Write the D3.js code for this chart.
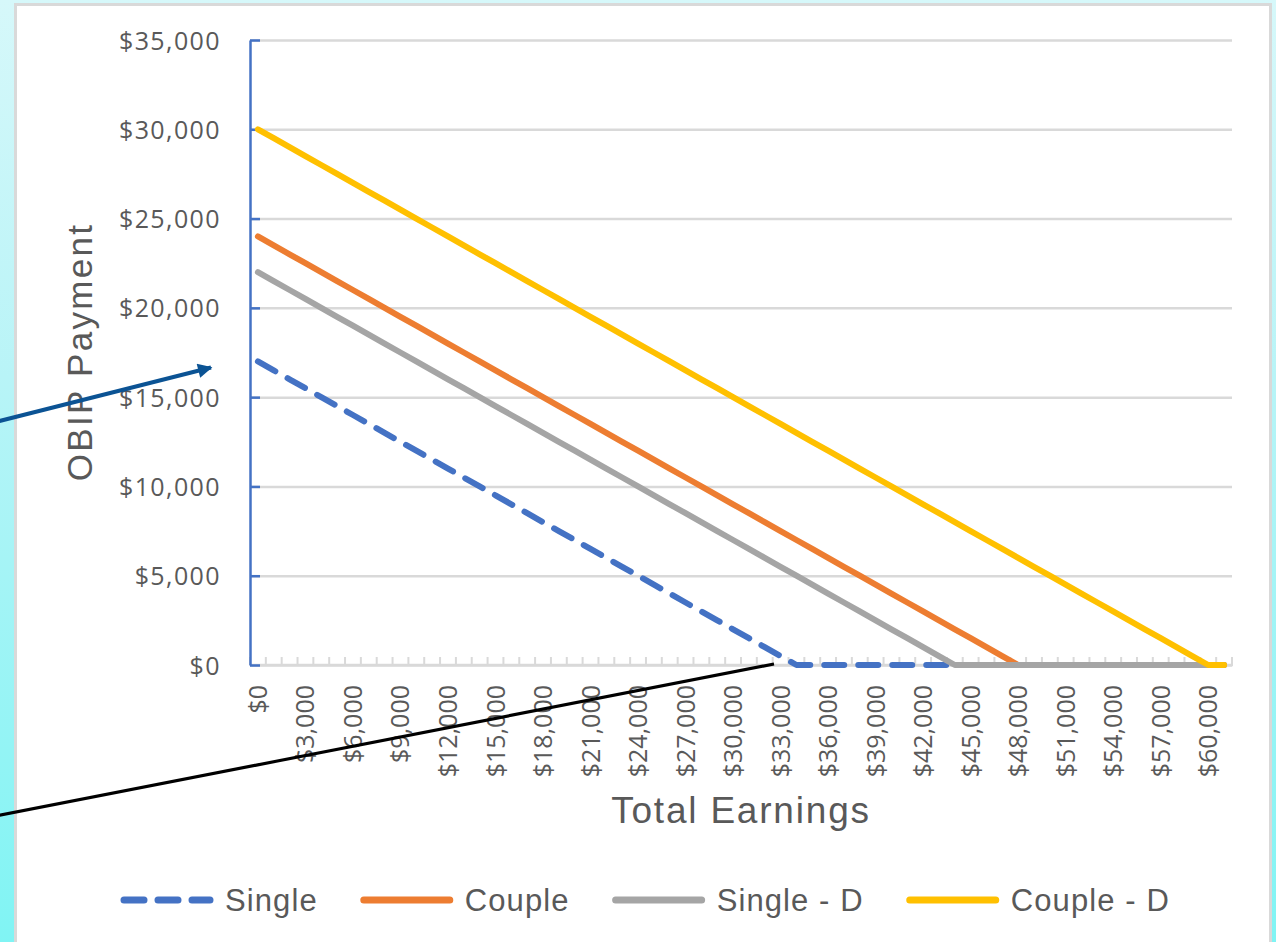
<!DOCTYPE html>
<html>
<head>
<meta charset="utf-8">
<script src="https://cdn.jsdelivr.net/npm/d3@7"></script>
<style>
  html, body { margin: 0; padding: 0; }
  body { width: 1276px; height: 942px; overflow: hidden; }
</style>
</head>
<body>
<svg id="chart" width="1276" height="942"></svg>
<script>
// Earnings categories (one per $1,000)
const categories = [0,1000,2000,3000,4000,5000,6000,7000,8000,9000,10000,11000,12000,13000,14000,15000,16000,17000,18000,19000,20000,
  21000,22000,23000,24000,25000,26000,27000,28000,29000,30000,31000,32000,33000,34000,35000,36000,37000,38000,39000,40000,
  41000,42000,43000,44000,45000,46000,47000,48000,49000,50000,51000,52000,53000,54000,55000,56000,57000,58000,59000,60000,61000];

// Every third category carries a label
const xTickLabels = ["$0","$3,000","$6,000","$9,000","$12,000","$15,000","$18,000","$21,000","$24,000","$27,000","$30,000",
  "$33,000","$36,000","$39,000","$42,000","$45,000","$48,000","$51,000","$54,000","$57,000","$60,000"];
const yTicks = [0,5000,10000,15000,20000,25000,30000,35000];
const yTickLabels = ["$0","$5,000","$10,000","$15,000","$20,000","$25,000","$30,000","$35,000"];

const seriesNames = ["Single","Couple","Single - D","Couple - D"];

// OBIP payment by total earnings
const single = [17000,16500,16000,15500,15000,14500,14000,13500,13000,12500,12000,11500,11000,10500,10000,9500,9000,8500,8000,7500,
  7000,6500,6000,5500,5000,4500,4000,3500,3000,2500,2000,1500,1000,500,
  0,0,0,0,0,0,0,0,0,0,0,0,0,0,0,0,0,0,0,0,0,0,0,0,0,0,0,0];
const couple = [24000,23500,23000,22500,22000,21500,21000,20500,20000,19500,19000,18500,18000,17500,17000,16500,16000,15500,15000,14500,
  14000,13500,13000,12500,12000,11500,11000,10500,10000,9500,9000,8500,8000,7500,7000,6500,6000,5500,5000,4500,
  4000,3500,3000,2500,2000,1500,1000,500,
  0,0,0,0,0,0,0,0,0,0,0,0,0,0];
const singleD = [22000,21500,21000,20500,20000,19500,19000,18500,18000,17500,17000,16500,16000,15500,15000,14500,14000,13500,13000,12500,
  12000,11500,11000,10500,10000,9500,9000,8500,8000,7500,7000,6500,6000,5500,5000,4500,4000,3500,3000,2500,
  2000,1500,1000,500,
  0,0,0,0,0,0,0,0,0,0,0,0,0,0,0,0,0,0];
const coupleD = [30000,29500,29000,28500,28000,27500,27000,26500,26000,25500,25000,24500,24000,23500,23000,22500,22000,21500,21000,20500,
  20000,19500,19000,18500,18000,17500,17000,16500,16000,15500,15000,14500,14000,13500,13000,12500,12000,11500,11000,10500,
  10000,9500,9000,8500,8000,7500,7000,6500,6000,5500,5000,4500,4000,3500,3000,2500,2000,1500,1000,500,
  0,0];

const seriesValues = [single, couple, singleD, coupleD];
const seriesColors = ["#4472c4","#ed7d31","#a5a5a5","#ffc000"];
const seriesDash = ["20,14", null, null, null];

const svg = d3.select("#chart");

// backdrop gradient and white card
const defs = svg.append("defs");
const grad = defs.append("linearGradient").attr("id","bg").attr("x1",0).attr("y1",0).attr("x2",0).attr("y2",1);
grad.append("stop").attr("offset","0%").attr("stop-color","#d6f8fa");
grad.append("stop").attr("offset","40%").attr("stop-color","#b8f4f7");
grad.append("stop").attr("offset","100%").attr("stop-color","#80f4f4");
svg.append("rect").attr("width",1276).attr("height",942).attr("fill","url(#bg)");
svg.append("rect").attr("x",15.5).attr("y",4.5).attr("width",1255).attr("height",980)
  .attr("fill","#ffffff").attr("stroke","#d9d9d9").attr("stroke-width",3);

const plot = { left: 250, right: 1232, top: 40, bottom: 665 };

const x = d3.scaleBand().domain(categories).range([plot.left, plot.right]).padding(0);
const bw = x.bandwidth();
const y = d3.scaleLinear().domain([0, 35000]).range([plot.bottom, plot.top]);

// horizontal gridlines
svg.append("g")
  .attr("transform", `translate(${plot.left},0)`)
  .call(d3.axisLeft(y).tickValues(yTicks).tickSize(-(plot.right - plot.left)).tickFormat(""))
  .call(g => g.select(".domain").remove())
  .call(g => g.selectAll(".tick line").attr("stroke","#d9d9d9").attr("stroke-width",2.5));

// category axis: baseline with tick marks between categories
const xAxisG = svg.append("g");
xAxisG.append("line")
  .attr("x1", plot.left).attr("x2", plot.right + 1)
  .attr("y1", plot.bottom).attr("y2", plot.bottom)
  .attr("stroke","#d9d9d9").attr("stroke-width",2.5);
xAxisG.selectAll("line.tk")
  .data(categories.concat([null]))
  .join("line").attr("class","tk")
  .attr("x1",(d,i) => d === null ? plot.right : x(d))
  .attr("x2",(d,i) => d === null ? plot.right : x(d))
  .attr("y1", plot.bottom).attr("y2", plot.bottom - 8)
  .attr("stroke","#d9d9d9").attr("stroke-width",2);

// category labels, rotated
const labelled = categories.filter((c,i) => i % 3 === 0);
svg.append("g")
  .selectAll("text")
  .data(labelled)
  .join("text")
  .attr("transform", d => `translate(${x(d) + bw/2 + 9},${plot.bottom + 20}) rotate(-90)`)
  .attr("text-anchor","end")
  .attr("font-family","'Open Sans', sans-serif")
  .attr("font-size",25)
  .attr("fill","#595959")
  .text((d,i) => xTickLabels[i]);

// value axis
svg.append("g")
  .attr("transform", `translate(${plot.left},0)`)
  .call(d3.axisLeft(y).tickValues(yTicks).tickSizeInner(-10).tickSizeOuter(0).tickPadding(29)
    .tickFormat((d,i) => yTickLabels[i]))
  .call(g => g.select(".domain").attr("stroke","#4472c4").attr("stroke-width",2.5))
  .call(g => g.selectAll(".tick line").attr("stroke","#4472c4").attr("stroke-width",2.5))
  .call(g => g.selectAll(".tick text")
    .attr("font-family","'Open Sans', sans-serif").attr("font-size",25)
    .attr("letter-spacing","1.4px")
    .attr("fill","#595959").attr("dy","0.36em"));

// series lines
const line = d3.line()
  .x((d,i) => x(categories[i]) + bw/2)
  .y(d => y(d));
svg.append("g")
  .selectAll("path")
  .data(seriesValues)
  .join("path")
  .attr("d", d => line(d))
  .attr("fill","none")
  .attr("stroke",(d,i) => seriesColors[i])
  .attr("stroke-width",6)
  .attr("stroke-linejoin","round")
  .attr("stroke-linecap","round")
  .attr("stroke-dasharray",(d,i) => seriesDash[i]);

// axis titles
svg.append("text")
  .attr("transform","translate(92,352) rotate(-90)")
  .attr("text-anchor","middle")
  .attr("font-family","'Liberation Sans', Arial, sans-serif")
  .attr("font-size",35).attr("letter-spacing","2.3px")
  .attr("fill","#595959")
  .text("OBIP Payment");
svg.append("text")
  .attr("x",(plot.left + plot.right)/2).attr("y",823)
  .attr("text-anchor","middle")
  .attr("font-family","'Liberation Sans', Arial, sans-serif")
  .attr("font-size",37).attr("letter-spacing","1.8px")
  .attr("fill","#595959")
  .text("Total Earnings");

// legend
const legend = svg.append("g");
let lx = 121;
seriesNames.forEach((name,i) => {
  legend.append("line")
    .attr("x1", lx + 3).attr("x2", lx + 89)
    .attr("y1", 900).attr("y2", 900)
    .attr("stroke", seriesColors[i]).attr("stroke-width",7)
    .attr("stroke-linecap","round")
    .attr("stroke-dasharray", seriesDash[i]);
  const t = legend.append("text")
    .attr("x", lx + 104).attr("y", 911)
    .attr("font-family","'Liberation Sans', Arial, sans-serif")
    .attr("font-size",31).attr("letter-spacing","1.1px")
    .attr("fill","#595959")
    .text(name);
  lx = lx + 104 + t.node().getComputedTextLength() + 43;
});

// callout lines
const callouts = svg.append("g");
defs.append("marker").attr("id","head").attr("viewBox","0 0 10 10")
  .attr("refX",9).attr("refY",5).attr("markerWidth",4.2).attr("markerHeight",3.6)
  .attr("markerUnits","strokeWidth").attr("orient","auto")
  .append("path").attr("d","M0,0 L10,5 L0,10 Z").attr("fill","#0b5394");
callouts.append("line")
  .attr("x1",-20).attr("y1",426).attr("x2",211).attr("y2",367.5)
  .attr("stroke","#0b5394").attr("stroke-width",4)
  .attr("marker-end","url(#head)");
callouts.append("line")
  .attr("x1",-20).attr("y1",819).attr("x2",774).attr("y2",664)
  .attr("stroke","#000000").attr("stroke-width",3.2);
</script>
</body>
</html>
